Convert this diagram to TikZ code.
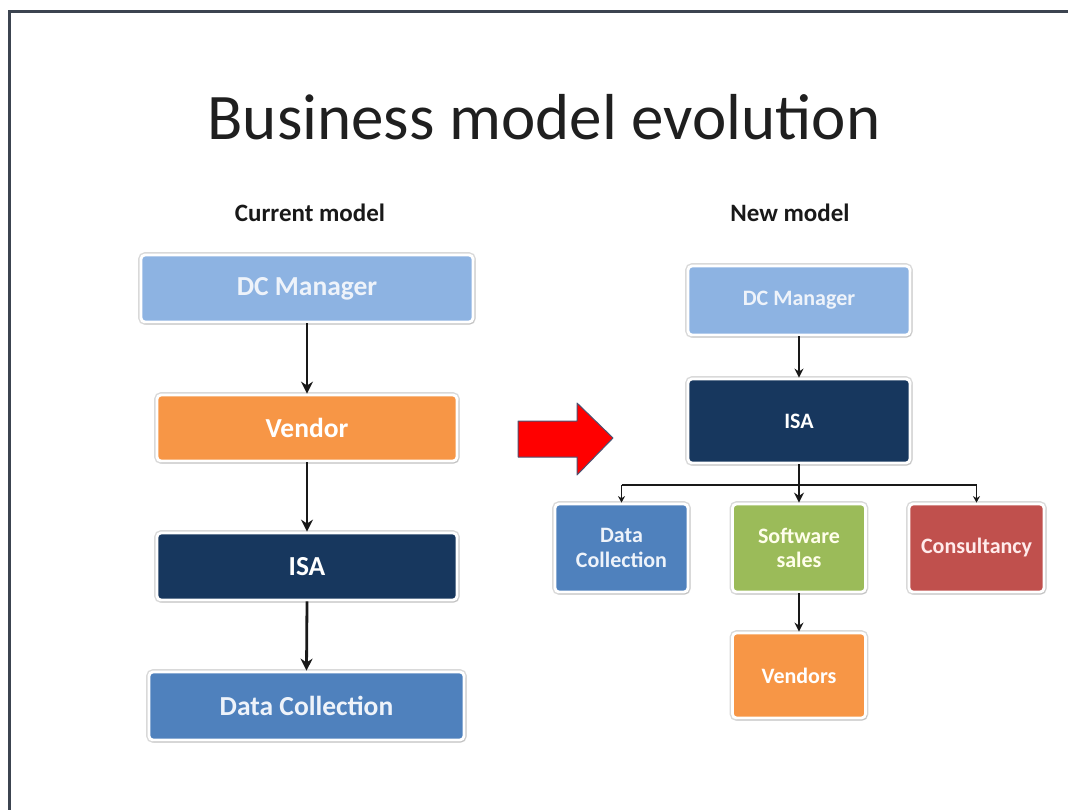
\documentclass[tikz,border=0pt]{standalone}
\usepackage{fontspec}
\setmainfont{Carlito}
\usetikzlibrary{arrows.meta,shadows}

\definecolor{frameline}{HTML}{3C4450}
\definecolor{lightblue}{HTML}{8DB3E2}
\definecolor{orangebox}{HTML}{F79646}
\definecolor{navybox}{HTML}{17375E}
\definecolor{bluebox}{HTML}{4F81BD}
\definecolor{greenbox}{HTML}{9BBB59}
\definecolor{redbox}{HTML}{C0504D}
\definecolor{paletext}{HTML}{EEF3FA}
\definecolor{arrowedge}{HTML}{4A5373}

\tikzset{
  card/.style={rectangle, rounded corners=4pt, draw=white, line width=2.8pt,
    text=white, align=center, inner sep=2pt,
    preaction={draw=black!15, line width=5.6pt},
    drop shadow={shadow xshift=1.5pt, shadow yshift=-2.2pt, opacity=0.25, fill=black!50}},
  bigcard/.style={card, font=\fontsize{27.5}{30}\selectfont\bfseries},
  smallcard/.style={card, font=\fontsize{22}{24.5}\selectfont\bfseries,
    minimum width=133pt, minimum height=88pt},
  heading/.style={font=\fontsize{25}{28}\selectfont\bfseries, text=black!90},
  flow/.style={line width=2.8pt, draw=black!90,
    -{Stealth[length=12pt,width=12pt]}},
  flowsmall/.style={line width=2.3pt, draw=black!90,
    -{Stealth[length=9pt,width=9pt]}},
  branch/.style={line width=1.8pt, draw=black!90,
    -{Stealth[length=6.5pt,width=7pt]}},
  busline/.style={line width=1.8pt, draw=black!90}
}

\begin{document}
\begin{tikzpicture}[x=1pt,y=-1pt]
  \useasboundingbox (0,0) rectangle (1068,810);
  \fill[white] (0,0) rectangle (1068,810);

  % slide frame (top and left edges)
  \draw[frameline, line width=3pt] (9,810) -- (9,12) -- (1068,12);

  % title
  \node[anchor=base, font=\fontsize{65}{70}\selectfont, text=black!88]
    (title) at (544,140) {Business model evolution};

  % column headings
  \node[heading] (hcur) at (310,213) {Current model};
  \node[heading] (hnew) at (790,213) {New model};

  % current model: a single chain
  \node[bigcard, fill=lightblue, text=paletext, minimum width=332pt, minimum height=67pt]
    (l1) at (307,288.5) {DC Manager};
  \node[bigcard, fill=orangebox, minimum width=300pt, minimum height=66pt]
    (l2) at (307,428) {Vendor};
  \node[bigcard, fill=navybox, minimum width=300pt, minimum height=67pt]
    (l3) at (307,566.5) {ISA};
  \node[bigcard, fill=bluebox, text=paletext, minimum width=315pt, minimum height=68pt]
    (l4) at (306.5,706) {Data Collection};

  \draw[flow] (l1.south) -- (l2.north);
  \draw[flow] (l2.south) -- (l3.north);
  \draw[flow] (l3.south) -- (l4.north);

  % transition arrow
  \filldraw[fill=red, draw=arrowedge, line width=1pt, line join=round]
    (518,421) -- (577,421) -- (577,403) -- (613,438) -- (577,475)
    -- (577,457) -- (518,457) -- cycle;

  % new model: a small tree
  \node[card, fill=lightblue, text=paletext, font=\fontsize{22}{24}\selectfont\bfseries,
    minimum width=222pt, minimum height=69pt]
    (r1) at (799,300.5) {DC Manager};
  \node[card, fill=navybox, font=\fontsize{22}{24}\selectfont\bfseries,
    minimum width=222pt, minimum height=84pt]
    (r2) at (799,421) {ISA};
  \node[smallcard, fill=bluebox, text=paletext] (r3) at (621.5,548) {Data\\Collection};
  \node[smallcard, fill=greenbox, text=white!92!yellow] (r4) at (799,548) {Software\\sales};
  \node[smallcard, fill=redbox, text=white!92!red, minimum width=135pt] (r5) at (976.5,548) {Consultancy};
  \node[smallcard, fill=orangebox, minimum height=85pt] (r6) at (799,675.5) {Vendors};

  \coordinate (bus) at (799,485);

  \draw[flowsmall] (r1.south) -- (r2.north);
  \draw[flowsmall, -{Stealth[length=10pt,width=10pt]}] (r2.south) -- (r4.north);
  \draw[busline] (r3.north |- bus) -- (r5.north |- bus);
  \draw[branch] (r3.north |- bus) -- (r3.north);
  \draw[branch] (r5.north |- bus) -- (r5.north);
  \draw[flowsmall] (r4.south) -- (r6.north);
\end{tikzpicture}
\end{document}
